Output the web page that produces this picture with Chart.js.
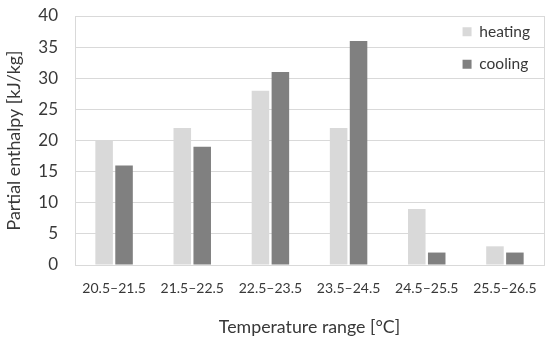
<!DOCTYPE html>
<html>
<head>
<meta charset="utf-8">
<script src="https://cdn.jsdelivr.net/npm/chart.js@4.4.0/dist/chart.umd.min.js"></script>
<style>
  html, body { margin: 0; padding: 0; background: #ffffff; }
  #wrap { width: 550px; height: 338px; position: relative; }
</style>
</head>
<body>
<div id="wrap"><canvas id="c" width="550" height="338"></canvas></div>
<script>
const categories = ["20.5–21.5", "21.5–22.5", "22.5–23.5", "23.5–24.5", "24.5–25.5", "25.5–26.5"];
const heating = [20, 22, 28, 22, 9, 3];
const cooling = [16, 19, 31, 36, 2, 2];
const seriesNames = ["heating", "cooling"];
const yTicks = [0, 5, 10, 15, 20, 25, 30, 35, 40];

const FONT = "Lato, 'Open Sans', sans-serif";
const TEXT = "#383838";
const GRID = "#d9d9d9";

const legendPlace = {
  id: "legendPlace",
  afterUpdate(chart) {
    const lg = chart.legend, ca = chart.chartArea;
    if (lg) {
      const w = lg.width, h = lg.height;
      lg.left = ca.right - w - 4;
      lg.right = lg.left + w;
      lg.top = ca.top - 9;
      lg.bottom = lg.top + h;
      if (lg.adjustHitBoxes) lg.adjustHitBoxes();
    }
  }
};

new Chart(document.getElementById("c"), {
  type: "bar",
  data: {
    labels: categories,
    datasets: [
      { label: seriesNames[0], data: heating, backgroundColor: "#d9d9d9", categoryPercentage: 0.51, barPercentage: 0.88 },
      { label: seriesNames[1], data: cooling, backgroundColor: "#808080", categoryPercentage: 0.51, barPercentage: 0.88 }
    ]
  },
  options: {
    responsive: false,
    animation: false,
    layout: { padding: { top: 16, right: 6, left: 0, bottom: 0 } },
    plugins: {
      tooltip: { enabled: false },
      legend: {
        position: "chartArea",
        align: "start",
        labels: {
          boxWidth: 9, boxHeight: 9,
          padding: 17,
          color: TEXT,
          font: { family: FONT, size: 15.5 }
        }
      }
    },
    scales: {
      x: {
        grid: { display: false },
        border: { display: true, color: GRID, width: 1 },
        ticks: { color: TEXT, font: { family: FONT, size: 14 }, padding: 7, maxRotation: 0 },
        title: { display: true, text: "Temperature range [°C]", color: TEXT, font: { family: FONT, size: 17.8 }, padding: { top: 12, bottom: 0 } },
        afterFit(s) { s.height = 73; }
      },
      y: {
        min: 0, max: 40,
        afterBuildTicks(s) { s.ticks = yTicks.map(v => ({ value: v })); },
        grid: { color: GRID, drawTicks: false },
        border: { display: true, color: GRID, width: 1 },
        ticks: { color: TEXT, font: { family: FONT, size: 17 }, padding: 17 },
        title: { display: true, text: "Partial enthalpy [kJ/kg]", color: TEXT, font: { family: FONT, size: 17.8 }, padding: { top: 4, bottom: 0 } },
        afterFit(s) { s.width = 75; s.paddingTop = 0; s.paddingBottom = 0; }
      },
      y2: {
        position: "right",
        min: 0, max: 40,
        grid: { display: false, drawTicks: false },
        border: { display: true, color: GRID, width: 1 },
        ticks: { display: false },
        afterFit(s) { s.width = 0; s.paddingTop = 0; s.paddingBottom = 0; }
      }
    }
  },
  plugins: [legendPlace]
});
</script>
</body>
</html>
